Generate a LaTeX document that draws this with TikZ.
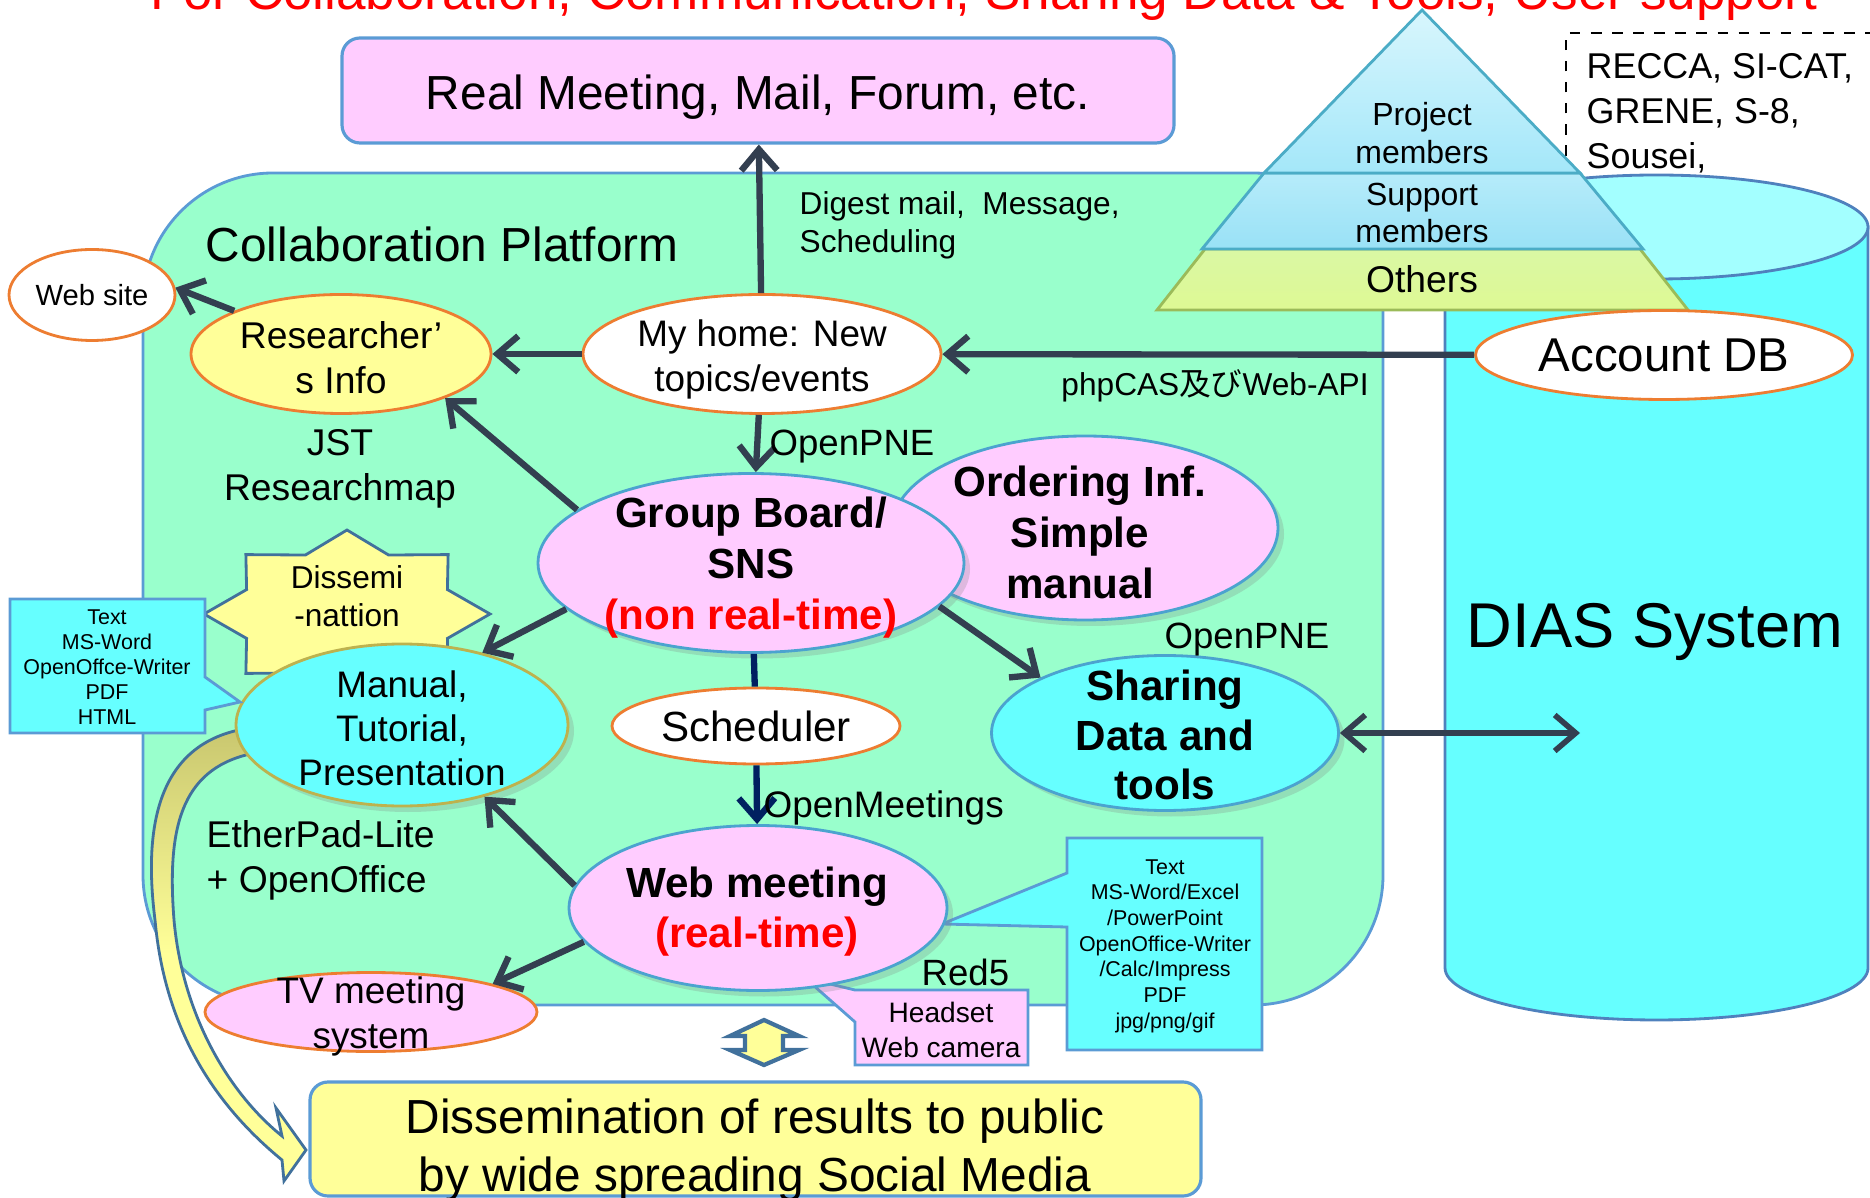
\documentclass[tikz,border=0pt]{standalone}
\usepackage{fontspec}
\setmainfont{Liberation Sans}
\newfontfamily\cjk{Noto Sans CJK JP}
\usetikzlibrary{shapes.geometric,arrows.meta,shadows}

\definecolor{platgreen}{HTML}{99FFCC}
\definecolor{pinkfill}{HTML}{FFCCFF}
\definecolor{yellowfill}{HTML}{FFFF99}
\definecolor{calloutcyan}{HTML}{66FFFF}
\definecolor{orangeline}{HTML}{ED7D31}
\definecolor{boxblue}{HTML}{5B9BD5}
\definecolor{pinkline}{HTML}{4BA3CF}
\definecolor{oliveline}{HTML}{BDB24E}
\definecolor{arrowc}{HTML}{333F50}
\definecolor{navyc}{HTML}{002060}
\definecolor{cylblue}{HTML}{4F81BD}
\definecolor{cyltop}{HTML}{A3FFFF}
\definecolor{bandline}{HTML}{41719C}
\definecolor{bandolive}{HTML}{C9C76F}
\definecolor{pyrline}{HTML}{4BACC6}
\definecolor{pyrtop}{HTML}{D8F6FD}
\definecolor{pyrmid}{HTML}{A4E7F9}
\definecolor{pyrlow}{HTML}{99E1F6}
\definecolor{othfill}{HTML}{DAF8A4}
\definecolor{othline}{HTML}{9BBB59}

\newcommand{\fsize}[2]{\fontsize{#1}{#2}\selectfont}

\begin{document}
\begin{tikzpicture}[x=0.1mm, y=-0.1mm,
  every node/.style={inner sep=0pt},
  ell/.style={ellipse, line width=0.8pt},
  oell/.style={ell, draw=orangeline},
  pell/.style={ell, draw=pinkline, fill=pinkfill,
    drop shadow={opacity=0.25, shadow xshift=0.6mm, shadow yshift=-0.6mm}},
  arr/.style={draw=arrowc, line width=1.8pt, -{Straight Barb[length=2.1mm,width=3.6mm]}},
  darr/.style={draw=arrowc, line width=1.6pt,
    {Straight Barb[length=2.1mm,width=3.6mm]}-{Straight Barb[length=2.1mm,width=3.6mm]}},
  callout/.style={draw=boxblue, fill=calloutcyan, line width=0.8pt}]
	\useasboundingbox (0,0) rectangle (1870,1198);
	% title, cut at the top
	\node[anchor=base, text=red, font=\fsize{15.1}{18}] (title) at (984,10) {For Collaboration, Communication, Sharing Data \& Tools, User support};
	\node[draw=boxblue, fill=pinkfill, rounded corners=1.8mm, line width=0.9pt, minimum width=83.2mm, minimum height=10.5mm] (realbox) at (758,90.5) {};
	\node[font=\fsize{13.6}{16}] at (758,97) {Real Meeting, Mail, Forum, etc.};
	% platform
	\draw[draw=boxblue, fill=platgreen, line width=0.8pt, rounded corners=13mm] (143,173) rectangle (1383,1005);
	\node[anchor=base west, font=\fsize{13.6}{16}] (platlabel) at (205,262) {Collaboration Platform};
	% DIAS side
	\draw[dashed, line width=0.6pt] (1566,240) -- (1566,33) -- (1890,33);
	\node[anchor=west, align=left, font=\fsize{10.2}{12.8}] (projects) at (1586,113) {RECCA, SI-CAT,\\GRENE, S-8,\\Sousei,};
	\filldraw[draw=cylblue, fill=calloutcyan, line width=0.8pt] (1445,227) -- plot[domain=0:180, samples=60] ({1656.5-211.5*cos(\x)},{968+52*sin(\x)}) -- (1868,227) -- cycle;
	\filldraw[draw=cylblue, fill=cyltop, line width=0.8pt] (1656.5,227) ellipse [x radius=21.15mm, y radius=5.2mm];
	\node[font=\fsize{18}{21}] (diaslabel) at (1655,632) {DIAS System};
	% pyramid
	\draw[draw=othline, line width=0.8pt, top color=othfill, bottom color=othfill!90!yellow] (1205,249) -- (1640,249) -- (1688,310) -- (1157,310) -- cycle;
	\draw[draw=pyrline, line width=0.8pt, top color=pyrmid!80!white, bottom color=pyrlow] (1264,173) -- (1580,173) -- (1643,249) -- (1202,249) -- cycle;
	\draw[draw=pyrline, line width=0.8pt, top color=pyrtop, bottom color=pyrmid] (1422,10) -- (1580,173) -- (1264,173) -- cycle;
	\node[align=center, font=\fsize{9.1}{10.8}] (projmem) at (1422,133) {Project\\members};
	\node[align=center, font=\fsize{9.1}{10.8}] (suppmem) at (1422,213) {Support\\members};
	\node[font=\fsize{10.6}{12.5}] (others) at (1422,279) {Others};
	% curved arrow to the public
	\draw[draw=bandline, line width=0.8pt, top color=bandolive, bottom color=yellowfill, middle color=yellowfill] (250,728) .. controls (150,742) and (145,840) .. (155,920) .. controls (165,1030) and (215,1105) .. (282,1160) -- (284,1181) -- (306,1150) -- (276,1108) -- (282,1136) .. controls (225,1090) and (182,1010) .. (174,920) .. controls (167,830) and (180,770) .. (250,754) -- cycle;
	% ellipses
	\node[oell, fill=white, minimum width=16.6mm, minimum height=9.1mm] (web) at (92,295) {};
	\node[oell, fill=yellowfill, minimum width=30mm, minimum height=11.9mm] (rinfo) at (341,354) {};
	\node[oell, fill=white, minimum width=35.8mm, minimum height=11.9mm] (home) at (762,354) {};
	\node[oell, fill=white, minimum width=37.7mm, minimum height=8.9mm] (acct) at (1664,355) {};
	\node[pell, minimum width=38.6mm, minimum height=18.4mm] (ordering) at (1085,528) {};
	\node[pell, minimum width=42.6mm, minimum height=17.9mm] (gboard) at (751,563) {};
	\node[pell, fill=calloutcyan, minimum width=34.7mm, minimum height=15.5mm] (share) at (1165,733) {};
	\node[oell, fill=white, minimum width=28.8mm, minimum height=7.6mm] (sched) at (756,726) {};
	\filldraw[draw=boxblue, fill=pinkfill, line width=0.8pt] (855,990) -- (1028,990) -- (1028,1065) -- (855,1065) -- (855,1022) -- (805,978) -- cycle;
	\node[font=\fsize{8}{9.8}, align=center] (headset) at (941,1030) {Headset\\Web camera};
	\filldraw[callout] (1067,838) -- (1262,838) -- (1262,1050) -- (1067,1050) -- (1067,927) -- (942,924) -- (1067,873) -- cycle;
	\node[align=center, font=\fsize{6.1}{7.3}] (rightnote) at (1165,946) {Text\\MS-Word/Excel\\/PowerPoint\\OpenOffice-Writer\\/Calc/Impress\\PDF\\jpg/png/gif};
	\node[pell, minimum width=37.8mm, minimum height=16.5mm] (webm) at (758,908) {};
	\node[oell, fill=pinkfill, minimum width=33.2mm, minimum height=7.9mm] (tv) at (371,1012) {};
	% star
	\filldraw[draw=bandline, fill=yellowfill, line width=0.8pt] (490,614) \foreach \i [evaluate=\i as \k using {mod(\i,2)==0 ? 1 : 0.76}] in {1,...,15} { -- ({347+143*\k*cos(\i*22.5)},{614-84*\k*sin(\i*22.5)}) } -- cycle;
	\node[align=center, font=\fsize{9}{10.8}] (dissem) at (347,596) {Dissemi\\-nattion};
	\node[ell, draw=oliveline, fill=calloutcyan, minimum width=33.2mm, minimum height=16.2mm, drop shadow={opacity=0.25, shadow xshift=0.6mm, shadow yshift=-0.6mm}] (manual) at (402,725) {};
	\filldraw[callout] (10,599) -- (205,599) -- (205,677) -- (240,702) -- (205,710) -- (205,733) -- (10,733) -- cycle;
	\node[align=center, font=\fsize{6.1}{7.1}] (leftnote) at (107,667) {Text\\MS-Word\\OpenOffce-Writer\\PDF\\HTML};
	% texts in the ellipses
	\node[font=\fsize{8.3}{10}] at (web) {Web site};
	\node[align=center, font=\fsize{10.6}{12.8}] at (341,358) {Researcher’\\s Info};
	\node[align=center, font=\fsize{10.5}{12.8}] at (762,359) {My home: New\\topics/events};
	\node[font=\fsize{13.5}{16}] at (acct) {Account DB};
	\node[align=center, font=\fsize{12}{14.5}\bfseries] at (1080,532) {Ordering Inf.\\Simple\\manual};
	\node[align=center, font=\fsize{12}{14.5}\bfseries] at (751,568) {Group Board/\\SNS\\\textcolor{red}{(non real-time)}};
	\node[align=center, font=\fsize{12}{14}\bfseries] at (1165,735) {Sharing\\Data and\\tools};
	\node[font=\fsize{12}{14}] at (sched) {Scheduler};
	\node[align=center, font=\fsize{12}{14.2}\bfseries] at (757,912) {Web meeting\\\textcolor{red}{(real-time)}};
	\node[align=center, font=\fsize{10.5}{12.8}] at (371,1016) {TV meeting\\system};
	\node[align=center, font=\fsize{10.5}{12.5}] at (402,728) {Manual,\\Tutorial,\\Presentation};
	% connectors
	\draw[arr] (rinfo.158) -- (web.5);
	\draw[arr] (home) -- (rinfo);
	\draw[arr] (home) -- (realbox);
	\draw[arr] (acct) -- (home);
	\draw[arr] (home) -- (gboard);
	\draw[arr] (gboard.163) -- (rinfo.-23);
	\draw[arr] (gboard.-166) -- (manual.42);
	\draw[arr] (gboard.-13) -- (share.156);
	\draw[draw=navyc, line width=1.8pt] (gboard) -- (sched);
	\draw[arr, draw=navyc] (sched) -- (webm);
	\draw[arr] (webm.173) -- (manual.-41);
	\draw[arr] (webm.-169) -- (tv.13);
	\coordinate (diasin) at (1580,733);
	\draw[darr] (share) -- (diasin);
	% labels
	\node[anchor=west, align=left, font=\fsize{9}{10.8}] (digest) at (799,225) {Digest mail,\ \ Message,\\Scheduling};
	\node[font=\fsize{9}{11}] (phpcas) at (1215,386) {phpCAS{\cjk 及び}Web-API};
	\node[anchor=west, font=\fsize{10.4}{12}] (pne1) at (769,447) {OpenPNE};
	\node[align=center, font=\fsize{10.6}{12.8}] (jst) at (340,469) {JST\\Researchmap};
	\node[anchor=west, font=\fsize{10.4}{12}] (pne2) at (1164,640) {OpenPNE};
	\node[anchor=west, font=\fsize{10.5}{12}] (omeet) at (763,808) {OpenMeetings};
	\node[anchor=west, align=left, font=\fsize{10.6}{12.8}] (ether) at (206,860) {EtherPad-Lite\\+ OpenOffice};
	\node[anchor=west, font=\fsize{10.4}{12}] (red5) at (921,972) {Red5};
	% to the public
	\filldraw[draw=bandline, fill=yellowfill, line width=1.2pt] (764,1020) -- (799,1036) -- (783,1036) -- (783,1050) -- (799,1050) -- (764,1065) -- (730,1050) -- (745,1050) -- (745,1036) -- (730,1036) -- cycle;
	\node[draw=boxblue, fill=yellowfill, rounded corners=1.8mm, line width=0.9pt, minimum width=89.1mm, minimum height=11.4mm] (public) at (755.5,1139) {};
	\node[align=center, font=\fsize{13.6}{16.5}] at (755,1150) {Dissemination of results to public\\by wide spreading Social Media};
\end{tikzpicture}
\end{document}
